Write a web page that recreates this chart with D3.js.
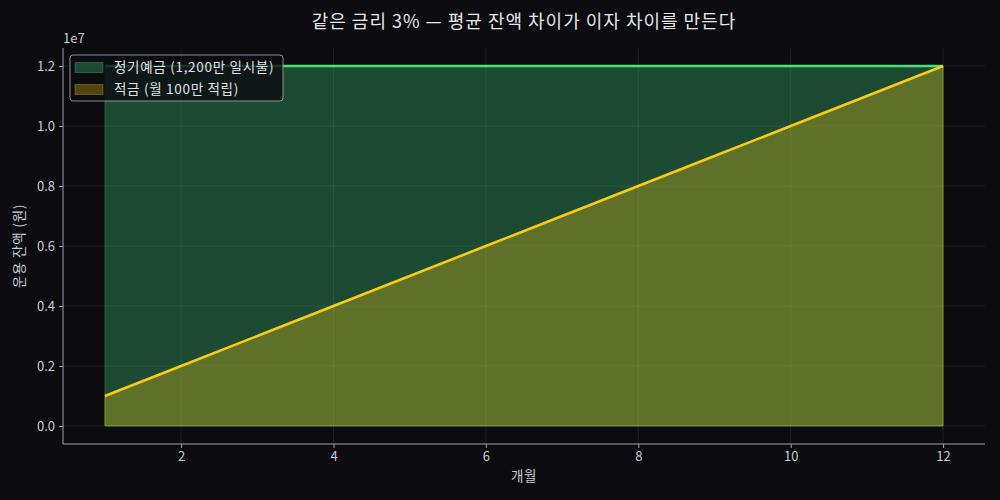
<!DOCTYPE html>
<html><head><meta charset="utf-8">
<script src="https://cdn.jsdelivr.net/npm/d3@7"></script>
<style>
html,body{margin:0;padding:0;background:#0b0b10;}
svg{display:block;}
text{font-family:"Noto Sans CJK KR","Noto Sans",sans-serif;}
</style></head>
<body><svg id="c" width="1000" height="500"></svg>
<script>
const months = [1,2,3,4,5,6,7,8,9,10,11,12];
const depositBalance = [12000000,12000000,12000000,12000000,12000000,12000000,12000000,12000000,12000000,12000000,12000000,12000000];
const savingsBalance = [1000000,2000000,3000000,4000000,5000000,6000000,7000000,8000000,9000000,10000000,11000000,12000000];
const xTicks = [2,4,6,8,10,12];
const yTicks = [0,2000000,4000000,6000000,8000000,10000000,12000000];
const seriesNames = ["정기예금 (1,200만 일시불)","적금 (월 100만 적립)"];
const title = "같은 금리 3% — 평균 잔액 차이가 이자 차이를 만든다";

const svg = d3.select("#c");
const L=63, R=985, T=48, B=444;
const x = d3.scaleLinear().domain([0.45,12.55]).range([L,R]);
const y = d3.scaleLinear().domain([-600000,12600000]).range([B,T]);
const tickCol="#c9ccd6", spineCol="#9ea3b0";

// grid
const g = svg.append("g");
g.selectAll(".gx").data(xTicks).join("line")
 .attr("x1",d=>x(d)).attr("x2",d=>x(d)).attr("y1",T).attr("y2",B)
 .attr("stroke","#ffffff").attr("stroke-opacity",0.1).attr("stroke-width",0.8);
g.selectAll(".gy").data(yTicks).join("line")
 .attr("y1",d=>y(d)).attr("y2",d=>y(d)).attr("x1",L).attr("x2",R)
 .attr("stroke","#ffffff").attr("stroke-opacity",0.1).attr("stroke-width",0.8);

const green="#4ade80", yellow="#facc15";
const idx = d3.range(months.length);
const areaDep = d3.area().x(i=>x(months[i])).y0(y(0)).y1(i=>y(depositBalance[i]));
const areaSav = d3.area().x(i=>x(months[i])).y0(y(0)).y1(i=>y(savingsBalance[i]));
svg.append("path").attr("d",areaDep(idx)).attr("fill",green).attr("fill-opacity",0.3)
 .attr("stroke",green).attr("stroke-opacity",0.3);
svg.append("path").attr("d",areaSav(idx)).attr("fill",yellow).attr("fill-opacity",0.3)
 .attr("stroke",yellow).attr("stroke-opacity",0.3);
const lineDep = d3.line().x(i=>x(months[i])).y(i=>y(depositBalance[i]));
const lineSav = d3.line().x(i=>x(months[i])).y(i=>y(savingsBalance[i]));
svg.append("path").attr("d",lineDep(idx)).attr("fill","none").attr("stroke",green).attr("stroke-width",2.7);
svg.append("path").attr("d",lineSav(idx)).attr("fill","none").attr("stroke",yellow).attr("stroke-width",2.5);

// axes
const xa = svg.append("g").attr("transform",`translate(0,${B})`)
 .call(d3.axisBottom(x).tickValues(xTicks).tickSize(4).tickPadding(4).tickFormat(d3.format("d")));
const ya = svg.append("g").attr("transform",`translate(${L},0)`)
 .call(d3.axisLeft(y).tickValues(yTicks).tickSize(4).tickPadding(4).tickFormat(d=>(d/1e7).toFixed(1)));
[xa,ya].forEach(a=>{
 a.select(".domain").attr("stroke",spineCol).attr("stroke-width",1);
 a.selectAll(".tick line").attr("stroke",spineCol);
 a.selectAll(".tick text").attr("fill",tickCol).attr("font-size",13).style("font-family",'"Noto Sans CJK KR","Noto Sans",sans-serif');
});
xa.select(".domain").attr("d",`M${L},0H${R}`);
ya.select(".domain").attr("d",`M0,${B}V${T}`);

svg.append("text").attr("x",63).attr("y",43).attr("fill",tickCol).attr("font-size",13).text("1e7");
svg.append("text").attr("x",524).attr("y",28).attr("text-anchor","middle").attr("fill","#e4e6ec").attr("font-size",18).attr("letter-spacing",1.0).text(title);
svg.append("text").attr("x",524).attr("y",481).attr("text-anchor","middle").attr("fill",tickCol).attr("font-size",13.5).attr("letter-spacing",0.5).text("개월");
svg.append("text").attr("transform",`translate(24,${(T+B)/2}) rotate(-90)`).attr("text-anchor","middle").attr("fill",tickCol).attr("font-size",13.5).attr("letter-spacing",0.8).text("운용 잔액 (원)");

// legend
const lg = svg.append("g");
lg.append("rect").attr("x",70).attr("y",55).attr("width",213).attr("height",46).attr("rx",3)
 .attr("fill","#0b0b10").attr("fill-opacity",0.8).attr("stroke","#8a8f9c").attr("stroke-width",1);
const cols=[green,yellow];
seriesNames.forEach((n,i)=>{
 const yy=67+i*22;
 lg.append("rect").attr("x",75).attr("y",yy-4.5).attr("width",28).attr("height",10)
  .attr("fill",cols[i]).attr("fill-opacity",0.3).attr("stroke",cols[i]).attr("stroke-opacity",0.3);
 lg.append("text").attr("x",114).attr("y",yy+5).attr("fill","#e0e2e8").attr("font-size",13.5).attr("letter-spacing",0.7).text(n);
});
</script></body></html>
